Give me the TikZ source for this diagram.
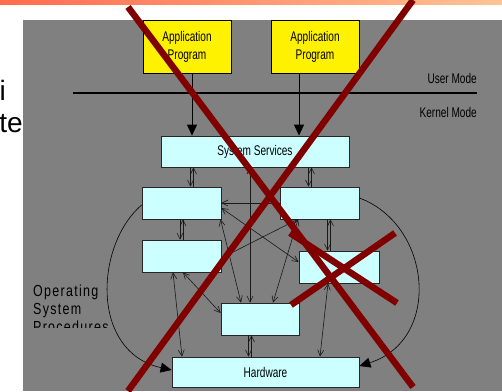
\documentclass[tikz,border=0pt]{standalone}
\usepackage{fontspec}
\setmainfont{Liberation Sans}
\newfontfamily\narrowsf[FakeStretch=0.72]{Liberation Sans}
\newfontfamily\widesf[FakeStretch=0.78,LetterSpace=8]{Liberation Sans}
\usetikzlibrary{arrows.meta}
\definecolor{slidegray}{HTML}{808080}
\definecolor{boxcyan}{HTML}{CCFFFF}
\definecolor{crossred}{HTML}{800000}
\definecolor{barleft}{HTML}{FF6B4E}
\definecolor{barright}{HTML}{FFC394}
\begin{document}
\begin{tikzpicture}[x=1pt,y=-1pt,
  procbox/.style={draw=black!85,line width=0.8pt,fill=boxcyan,inner sep=0pt,
    font=\narrowsf\fontsize{14}{18}\selectfont},
  appbox/.style={procbox,fill=yellow,draw=black,align=center},
  lnk/.style={draw=black!90,line width=0.6pt,>={Straight Barb[length=6pt,width=6pt]}},
  callarr/.style={draw=black,line width=0.8pt,-{Triangle[length=11pt,width=10pt]}},
  cross/.style={draw=crossred,line width=6.5pt},
  modelbl/.style={font=\narrowsf\fontsize{14}{17}\selectfont,inner sep=0pt,anchor=base east}]
\useasboundingbox (0,0) rectangle (502,391);
\fill[white] (0,0) rectangle (502,391);
\shade[left color=barleft,right color=barright] (0,0) rectangle (502,4);
\fill[slidegray] (23,20) rectangle (502,391);
% cut-off slide text on the left
\node[inner sep=0pt,anchor=base east,font=\fontsize{28}{30}\selectfont] (txti) at (6,100) {i};
\node[inner sep=0pt,anchor=base east,font=\fontsize{28}{30}\selectfont] (txtte) at (23,132) {te};
% user / kernel boundary
\draw[line width=2.5pt] (73,93)--(477,93);
\node[modelbl] (umode) at (477,83) {User Mode};
\node[modelbl] (kmode) at (477,117) {Kernel Mode};
% boxes
\node[appbox,minimum width=88pt,minimum height=53pt] (app1) at (187,46.5) {Application\\Program};
\node[appbox,minimum width=88pt,minimum height=53pt] (app2) at (315,46.5) {Application\\Program};
\node[procbox,minimum width=188pt,minimum height=31pt] (svc) at (255,151.5) {System Services};
\node[procbox,minimum width=79pt,minimum height=32pt] (procA) at (181.5,203) {};
\node[procbox,minimum width=79pt,minimum height=32pt] (procB) at (181.5,256) {};
\node[procbox,minimum width=79pt,minimum height=32pt] (procC) at (319.5,203) {};
\node[procbox,minimum width=80pt,minimum height=32pt] (procD) at (339,267) {};
\node[procbox,minimum width=78pt,minimum height=32pt] (procE) at (260,319) {};
\node[procbox,minimum width=187pt,minimum height=30pt] (hw) at (265.5,372) {Hardware};
\begin{scope}
\clip (23,270) rectangle (140,327);
\node[inner sep=0pt,anchor=north west,align=left,font=\widesf\fontsize{16}{18}\selectfont] (osproc) at (33,284.5) {Operating\\System\\Procedures};
\end{scope}
% calls into the kernel
\draw[callarr] ([xshift=5pt]app1.south)--([xshift=-63pt]svc.north);
\draw[callarr] ([xshift=-16pt]app2.south)--([xshift=44pt]svc.north);
% paired links between stacked boxes
\foreach \u/\v/\su/\sv in {svc/procA/-63/10.5,svc/procC/55/-9.5,procA/procB/0/0,procC/procD/9.5/-10,procE/hw/-10/-15.5}{
  \draw[lnk,->] ([xshift={\su pt-1.5pt}]\u.south)--([xshift={\sv pt-1.5pt}]\v.north);
  \draw[lnk,<-] ([xshift={\su pt+1.5pt}]\u.south)--([xshift={\sv pt+1.5pt}]\v.north);
}
% other links
\draw[lnk,<->] ([xshift=-11pt]procD.south)--([xshift=54.5pt]hw.north);
\draw[lnk,<->] ([xshift=-8.5pt]procB.south)--([xshift=-83.5pt]hw.north);
\draw[lnk,<->] ([xshift=1.5pt]procB.south)--([yshift=6pt]procE.west);
\draw[lnk,<->] ([xshift=-5pt]svc.south)--([xshift=-10pt]procE.north);
\draw[lnk,<->] ([xshift=39pt]procA.south)--([xshift=-19pt]procE.north);
\draw[lnk,<->] ([xshift=-21.5pt]procC.south)--([xshift=13pt]procE.north);
\draw[lnk,->] (procC.west)--(procA.east);
\draw[lnk,<->] ([yshift=-5pt]procA.east)--([yshift=5pt]procD.west);
\draw[lnk,<->] ([xshift=-22pt]procC.south)--([yshift=-2pt]procB.east);
% procedure calls around the side
\draw[callarr,line width=0.6pt] ([yshift=-2pt]procA.west) .. controls (95,245) and (90,352) .. ([yshift=2pt]hw.west);
\draw[callarr,line width=0.6pt] ([yshift=5pt]procC.east) .. controls (432,225) and (442,340) .. ([yshift=6pt]hw.east);
% crossed out
\draw[cross] (128,7)--(413,387);
\draw[cross] (413,0)--(128,391);
\draw[cross] (290,233)--(397,303);
\draw[cross] (395,233)--(291,305);
\end{tikzpicture}
\end{document}
